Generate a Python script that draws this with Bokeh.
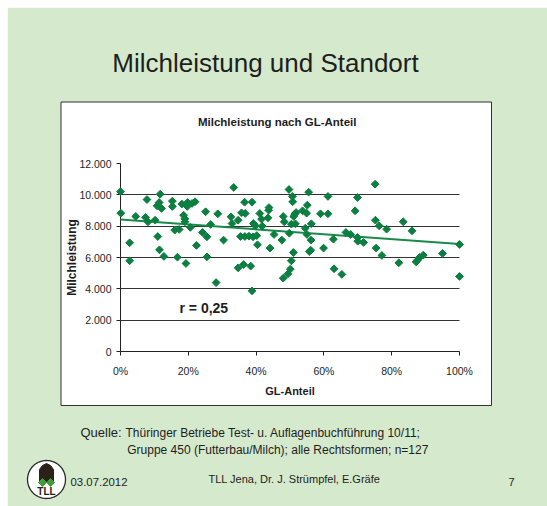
import numpy as np
from bokeh.plotting import figure
from bokeh.models import Range1d, FixedTicker
from bokeh.core.properties import value
from bokeh.embed import file_html
from bokeh.resources import INLINE

# ---- data ----
gl_anteil = [
    0.000, 0.001, 0.027, 0.027, 0.045, 0.074, 0.078, 0.081, 0.102, 0.110,
    0.108, 0.114, 0.117, 0.115, 0.121, 0.128, 0.153, 0.153, 0.160, 0.173,
    0.168, 0.181, 0.186, 0.190, 0.190, 0.193, 0.197, 0.198, 0.206, 0.211,
    0.220, 0.224, 0.242, 0.251, 0.255, 0.255, 0.266, 0.282, 0.287, 0.304,
    0.326, 0.329, 0.334, 0.347, 0.347, 0.354, 0.357, 0.363, 0.366, 0.368,
    0.367, 0.379, 0.384, 0.388, 0.388, 0.391, 0.392, 0.398, 0.402, 0.404,
    0.411, 0.416, 0.418, 0.435, 0.438, 0.437, 0.441, 0.453, 0.476, 0.480,
    0.480, 0.483, 0.494, 0.497, 0.498, 0.501, 0.504, 0.504, 0.507, 0.508,
    0.510, 0.511, 0.514, 0.516, 0.518, 0.537, 0.545, 0.549, 0.551, 0.550,
    0.555, 0.557, 0.561, 0.562, 0.563, 0.590, 0.599, 0.612, 0.612, 0.628,
    0.630, 0.653, 0.665, 0.679, 0.692, 0.699, 0.699, 0.700, 0.717, 0.751,
    0.752, 0.754, 0.763, 0.771, 0.785, 0.821, 0.834, 0.860, 0.872, 0.877,
    0.882, 0.893, 0.950, 1.000, 1.000,
]
milchleistung = [
    10200, 8830, 6940, 5790, 8620, 8560, 9700, 8280, 8380, 7340,
    9300, 9510, 10040, 6490, 9130, 6070, 9600, 9260, 7750, 7790,
    6020, 9410, 8700, 8470, 8280, 5620, 9260, 9510, 7920, 9450,
    9560, 6770, 7600, 8920, 7320, 6040, 8110, 4400, 8790, 7110,
    8600, 8170, 10470, 8380, 5340, 7340, 8850, 5550, 9530, 8810,
    7340, 7360, 5450, 9530, 3870, 7320, 8170, 8020, 7400, 6810,
    8810, 8450, 8000, 8530, 9190, 9020, 6600, 7470, 7110, 4680,
    8620, 8280, 4960, 10340, 7550, 5260, 5790, 8130, 9900, 9560,
    6320, 8620, 8770, 8150, 8870, 8980, 7870, 8830, 9340, 7470,
    10170, 6380, 6470, 7110, 8150, 8790, 6600, 9900, 8790, 7170,
    5280, 4920, 7600, 7470, 8980, 9830, 7280, 7040, 6960, 10680,
    8380, 6600, 8020, 6130, 7810, 5660, 8280, 7700, 5720, 5850,
    6000, 6150, 6260, 6830, 4790,
]
trend_x = [0.0, 1.0]
trend_y = [8420, 6860]

y_ticks = [0, 2000, 4000, 6000, 8000, 10000, 12000]
y_tick_labels = ["0", "2.000", "4.000", "6.000", "8.000", "10.000", "12.000"]
grid_values = [2000, 4000, 6000, 8000, 10000]
x_ticks = [0.0, 0.2, 0.4, 0.6, 0.8, 1.0]
x_tick_labels = ["0%", "20%", "40%", "60%", "80%", "100%"]

# ---- styling ----
W, H = 540, 499
BG = "#d5e9cc"
DOT = "#0b7f3f"
TXT = "#1e1e1e"
FONT = "Liberation Sans"

p = figure(
    width=W, height=H, output_backend="svg", toolbar_location=None,
    x_range=Range1d(0, 1), y_range=Range1d(0, 12000),
    min_border_left=113, min_border_right=88,
    min_border_top=156, min_border_bottom=155,
    border_fill_color=BG, background_fill_color="white",
    outline_line_color="#b4b4b4", margin=(7, 0, 0, 7),
)
# pixel ranges (canvas pixels, y downwards) for the slide decorations
p.extra_x_ranges = {"px": Range1d(113, 452)}
p.extra_y_ranges = {"px": Range1d(344, 156)}
PX = dict(x_range_name="px", y_range_name="px")

# white chart box
p.quad(left=[53.5], right=[484], top=[94.5], bottom=[398],
       fill_color="white", line_color="#333333", line_width=1,
       level="guide", **PX)

# axes
p.xaxis.ticker = x_ticks
p.yaxis.ticker = y_ticks
p.xaxis.major_label_overrides = {t: l for t, l in zip(x_ticks, x_tick_labels)}
p.yaxis.major_label_overrides = {t: l for t, l in zip(y_ticks, y_tick_labels)}
for ax in (p.xaxis[0], p.yaxis[0]):
    ax.level = "annotation"
    ax.axis_line_color = "#222222"
    ax.major_tick_line_color = "#222222"
    ax.major_tick_out = 4
    ax.major_tick_in = 0
    ax.minor_tick_out = 0
    ax.minor_tick_in = 0
    ax.major_label_text_font = FONT
    ax.major_label_text_font_size = "10.5px"
    ax.major_label_text_color = TXT
    ax.axis_label_text_font = FONT
    ax.axis_label_text_font_style = "bold"
    ax.axis_label_text_color = TXT
p.xaxis.axis_label = "GL-Anteil"
p.yaxis.axis_label = "Milchleistung"
p.xaxis.axis_label_text_font_size = "11px"
p.yaxis.axis_label_text_font_size = "12px"
p.xaxis.major_label_standoff = 9
p.yaxis.major_label_standoff = 5
p.xaxis.axis_label_standoff = 5
p.yaxis.axis_label_standoff = -3

p.xgrid.visible = False
p.ygrid.ticker = FixedTicker(ticks=grid_values)
p.ygrid.level = "annotation"
p.ygrid.grid_line_color = "#333333"
p.ygrid.grid_line_width = 1

# trend line and points
p.line(trend_x, trend_y, line_color="#1a8a4a", line_width=2, level="overlay")
p.scatter(gl_anteil, milchleistung, marker="square", angle=np.pi / 4, size=5.5,
          fill_color=DOT, line_color=DOT, level="overlay")

def txt(x, y, text, size, bold=False, align="left", color=TXT):
    p.text(x=[x - 7], y=[y - 7], text=[text], text_font=value(FONT),
           text_font_size=value(size), text_font_style="bold" if bold else "normal",
           text_align=align, text_baseline="middle", text_color=color,
           level="overlay", **PX)

txt(265, 62.5, "Milchleistung und Standort", "26px", align="center")
txt(276.7, 121.7, "Milchleistung nach GL-Anteil", "11.5px", bold=True, align="center")
txt(179, 307.5, "r = 0,25", "14px", bold=True)
txt(80, 432, "Quelle:", "13px")
txt(125, 432, "Thüringer Betriebe Test- u. Auflagenbuchführung 10/11;", "12px")
txt(126.7, 449, "Gruppe 450 (Futterbau/Milch); alle Rechtsformen; n=127", "12px")
txt(70, 481, "03.07.2012", "11.4px")
txt(208, 478, "TLL Jena, Dr. J. Strümpfel, E.Gräfe", "11px")
txt(508, 481, "7", "11px")

# logo (decoration, canvas pixels)
cx, cy, r = 46 - 7, 479 - 7, 19
th = np.linspace(0, 2 * np.pi, 72)
p.patch(cx + r * np.cos(th), cy + r * np.sin(th), fill_color="white",
        line_color="#2a2a2a", line_width=1.3, level="overlay", **PX)
p.patch([cx - 7, cx - 7, cx - 4, cx, cx + 4, cx + 7, cx + 7],
        [cy + 2, cy - 10, cy - 14, cy - 16, cy - 14, cy - 10, cy + 2],
        fill_color="#2b2118", line_color="#2b2118", level="overlay", **PX)
for dx in (-4, 4):
    p.patch([cx + dx - 4, cx + dx, cx + dx + 4, cx + dx],
            [cy + 3, cy - 1, cy + 3, cy + 7],
            fill_color="#3f9e3a", line_color="#3f9e3a", level="overlay", **PX)
txt(46, 490.5, "TLL", "10px", bold=True, align="center", color="#2b2118")

open("out.html", "w").write(file_html(p, INLINE))
